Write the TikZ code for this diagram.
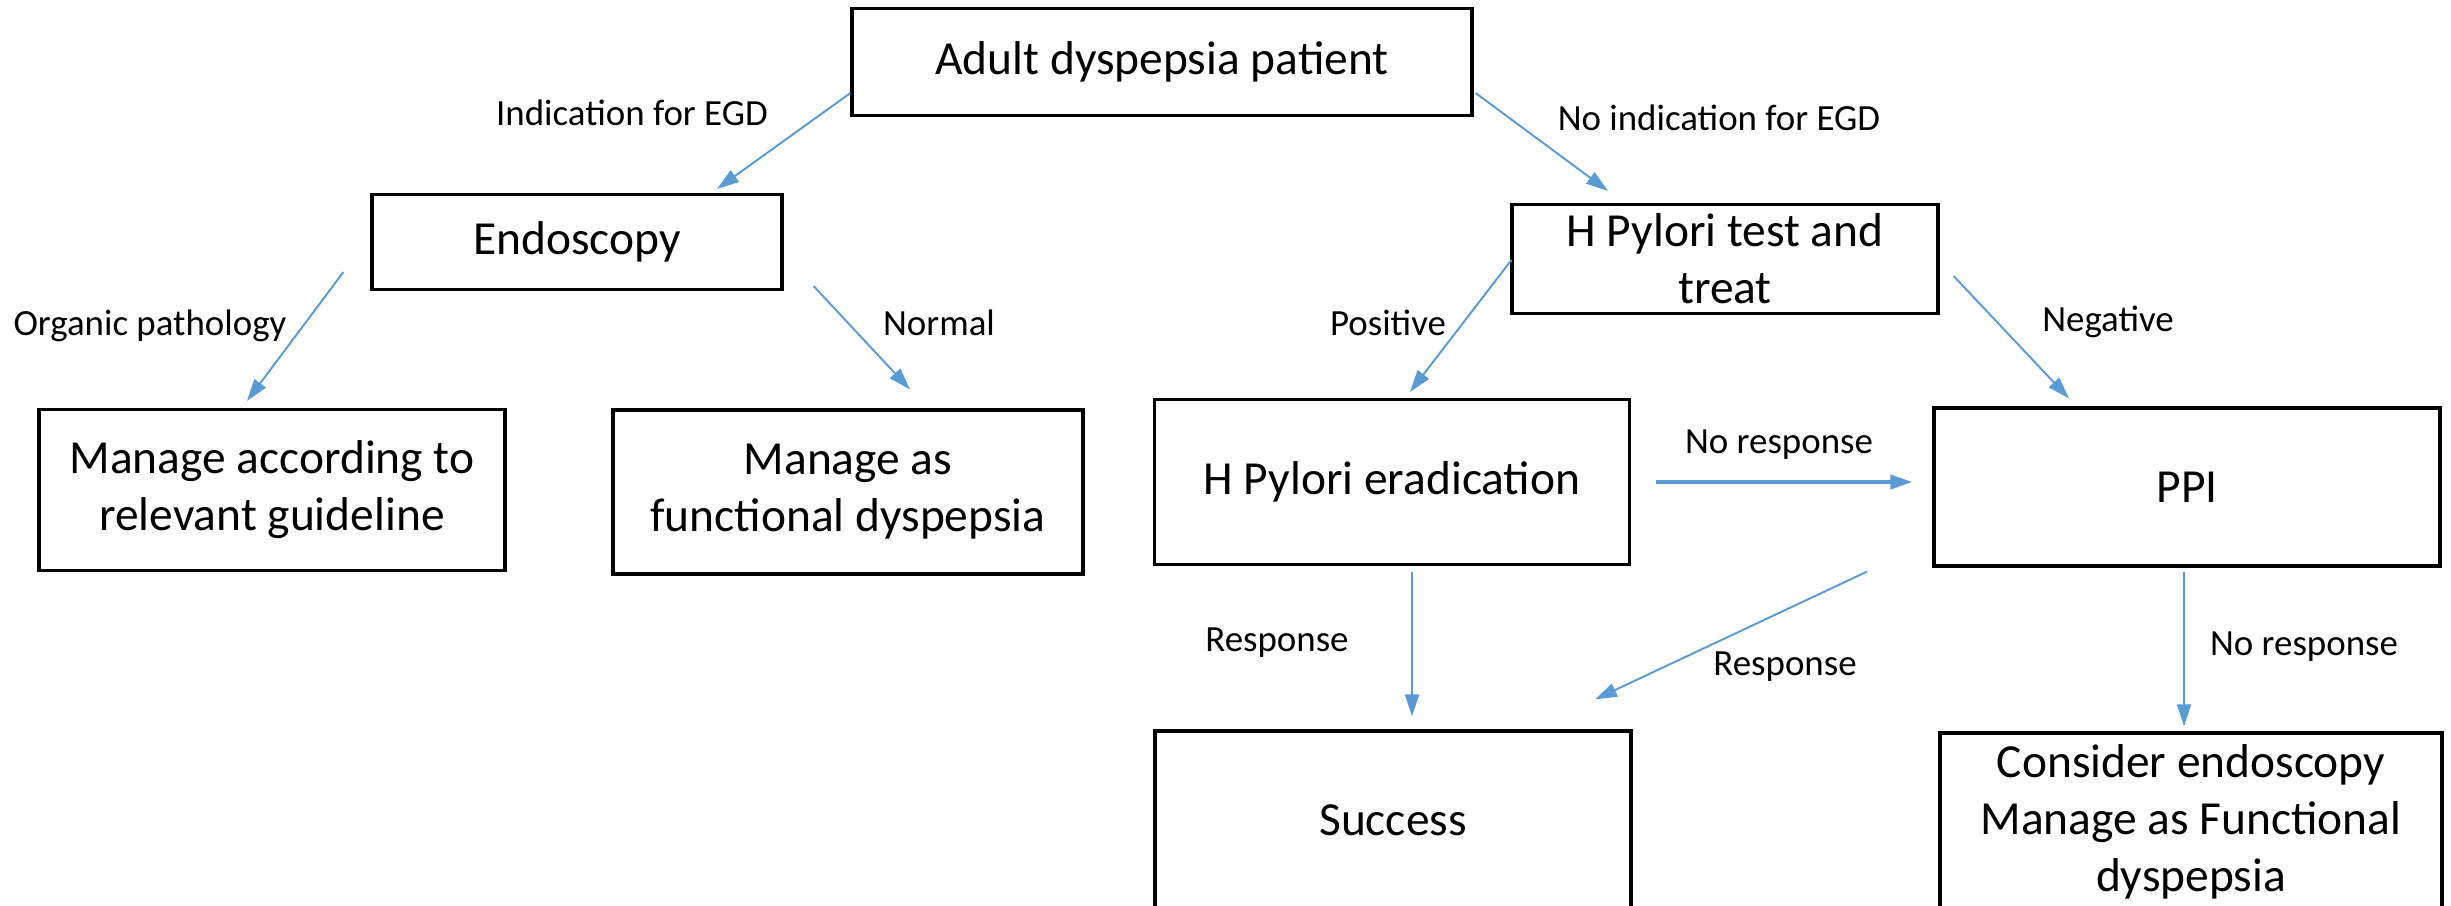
\documentclass[tikz,border=0pt]{standalone}
\usepackage{fontspec}
\setmainfont{Carlito}
\usetikzlibrary{arrows.meta,calc}
\definecolor{arrowblue}{RGB}{91,155,213}
\tikzset{
  box/.style={draw=black,line width=0.9pt,fill=white,align=center,inner sep=1pt,
              font=\fontsize{13.5}{16.2}\selectfont},
  flow/.style={-{Triangle[length=2.2mm,width=1.4mm]},line width=0.55pt,draw=arrowblue},
  flowb/.style={flow,line width=1.1pt},
  lbl/.style={font=\fontsize{10.5}{12}\selectfont,inner sep=1pt},
}
\begin{document}
\begin{tikzpicture}[x=0.1mm,y=-0.1mm]
  \clip (0,0) rectangle (2451,905);

  \node[box,minimum width=62mm,minimum height=10.7mm] (adult) at (1162,62)
        {Adult dyspepsia patient};
  \node[box,minimum width=41mm,minimum height=9.5mm] (endo) at (577,242)
        {Endoscopy};
  \node[box,minimum width=42.6mm,minimum height=10.9mm] (hpt) at (1725,259)
        {H Pylori test and\\treat};
  \node[box,minimum width=46.6mm,minimum height=16.1mm] (mgl) at (272,490)
        {Manage according to\\relevant  guideline};
  \node[box,minimum width=47mm,minimum height=16.4mm] (mfd) at (848,492)
        {Manage as\\functional dyspepsia};
  \node[box,minimum width=47.5mm,minimum height=16.5mm] (erad) at (1392,482)
        {H Pylori eradication};
  \node[box,minimum width=50.6mm,minimum height=15.8mm] (ppi) at (2187,487)
        {PPI};
  \node[box,minimum width=47.6mm,minimum height=17.8mm] (succ) at (1393,820)
        {Success};
  \node[box,minimum width=50.2mm,minimum height=17.8mm] (cons) at (2191,822)
        {Consider endoscopy\\Manage as Functional\\dyspepsia};

  % first split
  \draw[flow] ($(adult.west)+(0,31)$) -- ($(endo.north)+(140,-4)$);
  \draw[flow] ($(adult.east)+(2,31)$) -- ($(hpt.north)+(-117,-12)$);
  \node[lbl] (l1) at (632,113) {Indication for EGD};
  \node[lbl] (l2) at (1719,118) {No indication for EGD};

  % endoscopy branch
  \draw[flow] ($(endo.west)+(-27,30)$) -- ($(mgl.north)+(-25,-7)$);
  \draw[flow] ($(endo.east)+(30,44)$) -- ($(mfd.north)+(62,-19)$);
  \node[lbl] (l3) at (150,326) {Organic pathology};
  \node[lbl] (l4) at (939,323) {Normal};

  % test and treat branch
  \draw[flow] ($(hpt.west)+(1,1)$) -- ($(erad.north)+(18,-6)$);
  \draw[flow] ($(hpt.east)+(14,17)$) -- ($(ppi.north)+(-118,-8)$);
  \node[lbl] (l5) at (1388,323) {Positive};
  \node[lbl] (l6) at (2108,322) {Negative};

  \draw[flowb] ($(erad.east)+(25,0)$) coordinate (nr) -- ($(nr -| ppi.west)+(-20,0)$);
  \node[lbl] (l7) at (1779,445) {No response};

  \draw[flow] ($(erad.south)+(20,6)$) -- ($(succ.north)+(19,-13)$);
  \draw[flow] ($(ppi.south)+(-320,4)$) -- ($(succ.north)+(202,-30)$);
  \draw[flow] ($(ppi.south)+(-3,4)$) -- ($(cons.north)+(-7,-5)$);
  \node[lbl] (l8) at (1277,643) {Response};
  \node[lbl] (l9) at (1785,667) {Response};
  \node[lbl] (l10) at (2304,647) {No response};

\end{tikzpicture}
\end{document}
